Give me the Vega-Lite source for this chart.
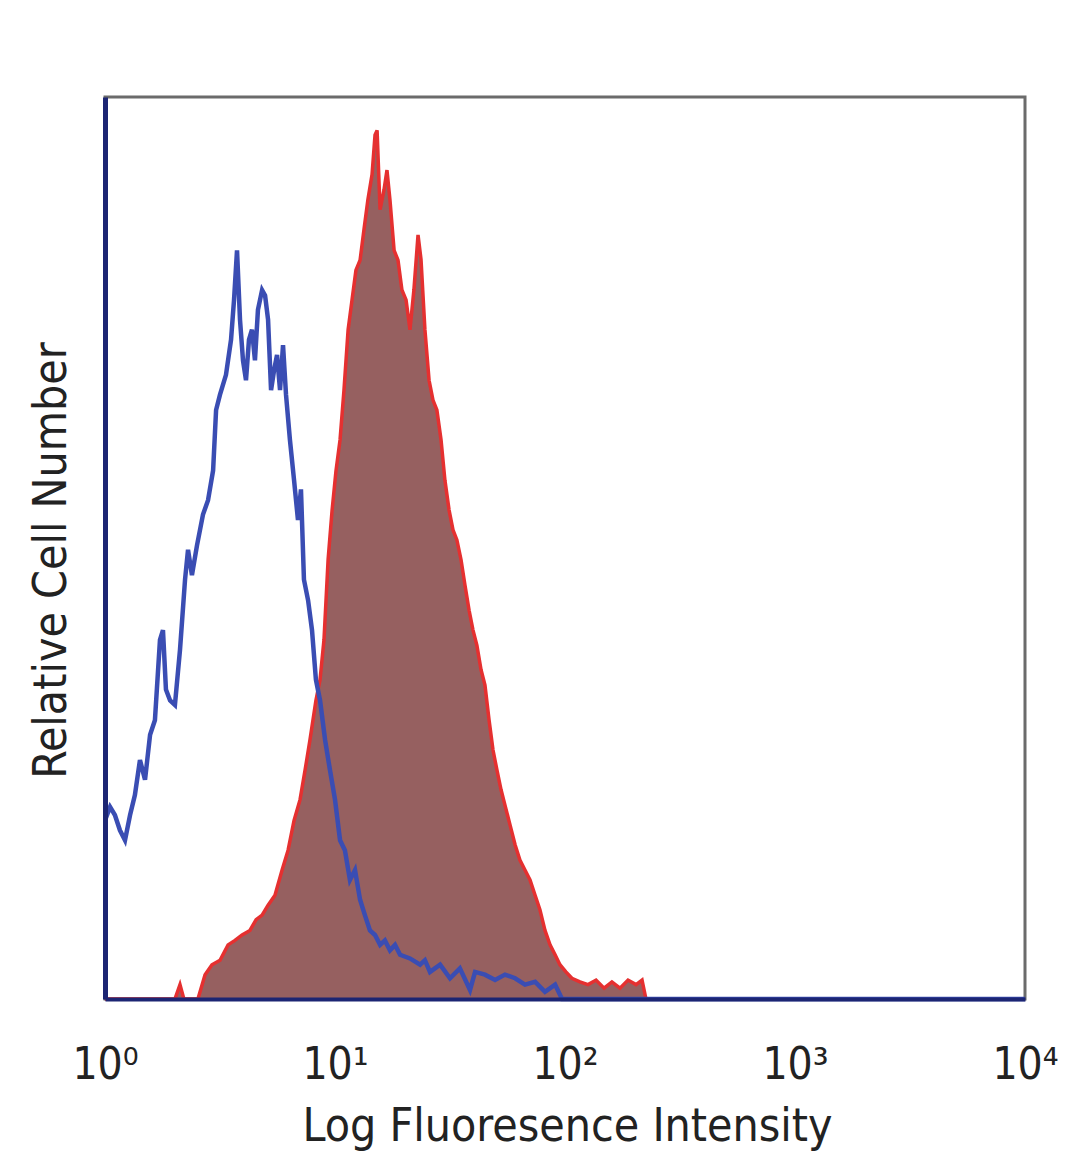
{
  "$schema": "https://vega.github.io/schema/vega-lite/v6.json",
  "autosize": "none",
  "width": 920,
  "height": 902,
  "padding": {"left": 105, "top": 97, "right": 55, "bottom": 170},
  "background": "white",
  "config": {
    "view": {"stroke": "#6b6b6b", "strokeWidth": 3},
    "font": "DejaVu Sans Condensed"
  },
  "datasets": {
    "blue": [
      {"log": 0, "count": 19.8}, {"log": 0.022, "count": 21.3}, {"log": 0.043, "count": 20.4}, {"log": 0.065, "count": 18.7},
      {"log": 0.087, "count": 17.6}, {"log": 0.109, "count": 20.4}, {"log": 0.13, "count": 22.6}, {"log": 0.152, "count": 26.5},
      {"log": 0.174, "count": 24.3}, {"log": 0.196, "count": 29.3}, {"log": 0.217, "count": 30.9}, {"log": 0.239, "count": 39.8},
      {"log": 0.252, "count": 40.9}, {"log": 0.265, "count": 34.3}, {"log": 0.283, "count": 33.1}, {"log": 0.304, "count": 32.6},
      {"log": 0.326, "count": 38.7}, {"log": 0.348, "count": 46.5}, {"log": 0.361, "count": 49.8}, {"log": 0.378, "count": 47.0},
      {"log": 0.4, "count": 50.3}, {"log": 0.426, "count": 53.7}, {"log": 0.448, "count": 55.3}, {"log": 0.47, "count": 58.6},
      {"log": 0.483, "count": 65.3}, {"log": 0.5, "count": 67.0}, {"log": 0.526, "count": 69.2}, {"log": 0.548, "count": 73.1},
      {"log": 0.561, "count": 77.5}, {"log": 0.574, "count": 83.0}, {"log": 0.587, "count": 75.3}, {"log": 0.6, "count": 70.8},
      {"log": 0.613, "count": 68.6}, {"log": 0.626, "count": 73.1}, {"log": 0.639, "count": 74.2}, {"log": 0.652, "count": 70.8},
      {"log": 0.665, "count": 76.4}, {"log": 0.683, "count": 78.6}, {"log": 0.696, "count": 78.0}, {"log": 0.709, "count": 75.3},
      {"log": 0.722, "count": 67.5}, {"log": 0.735, "count": 69.7}, {"log": 0.748, "count": 71.4}, {"log": 0.761, "count": 67.5},
      {"log": 0.774, "count": 72.5}, {"log": 0.787, "count": 67.0}, {"log": 0.804, "count": 62.0}, {"log": 0.822, "count": 57.5},
      {"log": 0.839, "count": 53.1}, {"log": 0.852, "count": 56.5}, {"log": 0.865, "count": 46.5}, {"log": 0.883, "count": 44.2},
      {"log": 0.9, "count": 40.9}, {"log": 0.917, "count": 35.4}, {"log": 0.935, "count": 33.1}, {"log": 0.957, "count": 28.7},
      {"log": 0.978, "count": 25.4}, {"log": 1.0, "count": 22.1}, {"log": 1.022, "count": 17.6}, {"log": 1.043, "count": 16.5},
      {"log": 1.065, "count": 13.2}, {"log": 1.087, "count": 14.3}, {"log": 1.109, "count": 11.0}, {"log": 1.13, "count": 9.3},
      {"log": 1.152, "count": 7.6}, {"log": 1.174, "count": 7.1}, {"log": 1.196, "count": 6.0}, {"log": 1.217, "count": 6.5},
      {"log": 1.239, "count": 5.4}, {"log": 1.261, "count": 6.0}, {"log": 1.283, "count": 4.9}, {"log": 1.326, "count": 4.5},
      {"log": 1.37, "count": 3.8}, {"log": 1.391, "count": 4.3}, {"log": 1.413, "count": 3.0}, {"log": 1.457, "count": 3.8},
      {"log": 1.5, "count": 2.3}, {"log": 1.543, "count": 3.4}, {"log": 1.587, "count": 1.0}, {"log": 1.609, "count": 3.0},
      {"log": 1.652, "count": 2.7}, {"log": 1.696, "count": 2.1}, {"log": 1.739, "count": 2.7}, {"log": 1.783, "count": 2.3},
      {"log": 1.826, "count": 1.6}, {"log": 1.87, "count": 1.9}, {"log": 1.913, "count": 0.8}, {"log": 1.957, "count": 1.6},
      {"log": 1.987, "count": 0}, {"log": 4, "count": 0}
    ],
    "red": [
      {"log": 0, "count": 0}, {"log": 0.304, "count": 0}, {"log": 0.326, "count": 1.6}, {"log": 0.343, "count": 0},
      {"log": 0.404, "count": 0}, {"log": 0.435, "count": 2.7}, {"log": 0.465, "count": 3.8}, {"log": 0.5, "count": 4.3},
      {"log": 0.535, "count": 6.0}, {"log": 0.565, "count": 6.5}, {"log": 0.596, "count": 7.1}, {"log": 0.63, "count": 7.6},
      {"log": 0.657, "count": 8.8}, {"log": 0.683, "count": 9.3}, {"log": 0.709, "count": 10.4}, {"log": 0.739, "count": 11.5},
      {"log": 0.77, "count": 14.3}, {"log": 0.796, "count": 16.5}, {"log": 0.822, "count": 19.8}, {"log": 0.848, "count": 22.1},
      {"log": 0.87, "count": 25.4}, {"log": 0.891, "count": 28.7}, {"log": 0.917, "count": 33.1}, {"log": 0.935, "count": 35.4},
      {"log": 0.952, "count": 39.8}, {"log": 0.97, "count": 48.7}, {"log": 0.987, "count": 54.1}, {"log": 1.004, "count": 58.5},
      {"log": 1.022, "count": 62.0}, {"log": 1.039, "count": 67.5}, {"log": 1.057, "count": 74.2}, {"log": 1.074, "count": 77.5},
      {"log": 1.091, "count": 80.8}, {"log": 1.109, "count": 81.9}, {"log": 1.126, "count": 85.3}, {"log": 1.143, "count": 88.6},
      {"log": 1.161, "count": 91.4}, {"log": 1.174, "count": 95.8}, {"log": 1.183, "count": 96.3}, {"log": 1.196, "count": 87.5},
      {"log": 1.213, "count": 89.7}, {"log": 1.226, "count": 91.9}, {"log": 1.239, "count": 88.6}, {"log": 1.257, "count": 83.0},
      {"log": 1.274, "count": 81.9}, {"log": 1.291, "count": 78.6}, {"log": 1.309, "count": 77.5}, {"log": 1.326, "count": 74.2},
      {"log": 1.343, "count": 78.6}, {"log": 1.361, "count": 84.7}, {"log": 1.374, "count": 82.0}, {"log": 1.391, "count": 74.2},
      {"log": 1.409, "count": 68.6}, {"log": 1.426, "count": 66.4}, {"log": 1.443, "count": 65.3}, {"log": 1.461, "count": 62.0},
      {"log": 1.478, "count": 57.5}, {"log": 1.496, "count": 54.2}, {"log": 1.513, "count": 52.0}, {"log": 1.53, "count": 50.9},
      {"log": 1.548, "count": 48.7}, {"log": 1.565, "count": 45.9}, {"log": 1.583, "count": 43.1}, {"log": 1.6, "count": 40.9},
      {"log": 1.617, "count": 39.2}, {"log": 1.635, "count": 36.5}, {"log": 1.652, "count": 34.8}, {"log": 1.67, "count": 30.9},
      {"log": 1.687, "count": 27.6}, {"log": 1.704, "count": 25.4}, {"log": 1.722, "count": 23.2}, {"log": 1.739, "count": 21.5},
      {"log": 1.761, "count": 19.3}, {"log": 1.783, "count": 17.1}, {"log": 1.804, "count": 15.4}, {"log": 1.826, "count": 14.3},
      {"log": 1.848, "count": 13.2}, {"log": 1.87, "count": 11.5}, {"log": 1.891, "count": 9.9}, {"log": 1.913, "count": 7.6},
      {"log": 1.935, "count": 6.0}, {"log": 1.957, "count": 4.9}, {"log": 1.978, "count": 3.8}, {"log": 2.004, "count": 3.0},
      {"log": 2.03, "count": 2.3}, {"log": 2.065, "count": 1.9}, {"log": 2.1, "count": 1.6}, {"log": 2.135, "count": 2.1},
      {"log": 2.17, "count": 1.2}, {"log": 2.204, "count": 1.9}, {"log": 2.239, "count": 1.2}, {"log": 2.274, "count": 2.1},
      {"log": 2.309, "count": 1.6}, {"log": 2.335, "count": 2.1}, {"log": 2.352, "count": 0}, {"log": 4, "count": 0}
    ]
  },
  "encoding": {
    "x": {
      "field": "log", "type": "quantitative",
      "scale": {"domain": [0, 4], "nice": false, "zero": false},
      "axis": {
        "title": "Log Fluoresence Intensity",
        "values": [0, 1, 2, 3, 4],
        "labelExpr": "['10⁰','10¹','10²','10³','10⁴'][datum.value]",
        "labelFont": "DejaVu Sans Condensed", "labelFontSize": 44, "labelColor": "#222222",
        "labelBaseline": "alphabetic", "labelPadding": 79, "labelFlush": false, "labelOverlap": false,
        "ticks": false, "grid": false,
        "domainColor": "#1c2573", "domainWidth": 4,
        "titleFont": "DejaVu Sans Condensed", "titleFontSize": 46, "titleFontWeight": "normal", "titleColor": "#222222",
        "titleBaseline": "alphabetic", "titleY": 141, "titleX": 462, "titleAlign": "center",
        "zindex": 1
      }
    },
    "y": {
      "field": "count", "type": "quantitative",
      "scale": {"domain": [0, 100], "nice": false},
      "axis": {
        "title": "Relative Cell Number",
        "labels": false, "ticks": false, "grid": false,
        "domainColor": "#1c2573", "domainWidth": 5,
        "titleFont": "DejaVu Sans Condensed", "titleFontSize": 46, "titleFontWeight": "normal", "titleColor": "#222222",
        "titleAngle": -90, "titleAlign": "center", "titleBaseline": "alphabetic",
        "titleX": -40, "titleY": 463,
        "zindex": 1
      }
    }
  },
  "layer": [
    {"data": {"name": "red"}, "mark": {"type": "area", "color": "#966060", "opacity": 1}},
    {"data": {"name": "red"}, "mark": {"type": "line", "color": "#e53030", "strokeWidth": 3.5}},
    {"data": {"name": "blue"}, "mark": {"type": "line", "color": "#3a4db3", "strokeWidth": 4.5}}
  ]
}
